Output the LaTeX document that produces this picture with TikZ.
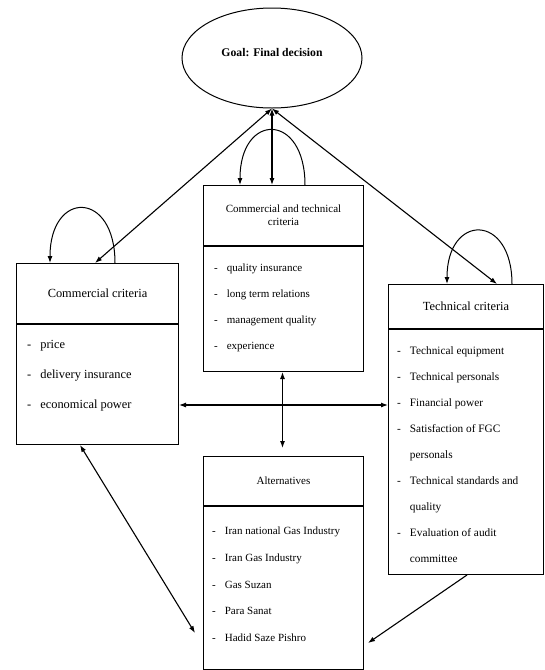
\documentclass[tikz,border=0pt]{standalone}
\usepackage{fontspec}
\setmainfont{Liberation Serif}
\usetikzlibrary{arrows.meta,shapes.geometric}
\tikzset{
  head/.style={draw,line width=1pt,inner sep=2pt,align=center,anchor=north west},
  body/.style={draw,line width=1pt,anchor=north west},
  items/.style={inner sep=0pt,anchor=north west,align=left},
  link/.style={line width=1.1pt,{Latex[length=7pt,width=5pt]}-{Latex[length=7pt,width=5pt]}},
  oneway/.style={line width=1.1pt,-{Latex[length=7pt,width=5pt]}},
  selfloop/.style={line width=1pt,-{Latex[length=7pt,width=5pt]}},
}
\begin{document}
\begin{tikzpicture}[x=1pt,y=-1pt,font=\fontsize{11}{13}\selectfont]
  \useasboundingbox (0,0) rectangle (545,670);
  \node[draw,ellipse,line width=1pt,minimum width=180pt,minimum height=100pt] (goal) at (272,58) {};
  \node[font=\bfseries\fontsize{11.7}{13}\selectfont] (goaltext) at ([yshift=5pt]goal.center) {Goal: Final decision};

  % criteria boxes
  \node[head,minimum width=162pt,minimum height=60pt,font=\fontsize{12.4}{14}\selectfont] (commhead) at (16,263) {Commercial criteria};
  \node[body,minimum width=162pt,minimum height=120pt] (commbody) at (commhead.south west) {};
  \node[items,font=\fontsize{12.4}{30}\selectfont] (commitems) at ([xshift=11pt,yshift=-3pt]commbody.north west)
    {\begin{tabular}{@{}l@{\hspace{9pt}}l@{}}-&price\\-&delivery insurance\\-&economical power\end{tabular}};

  \node[head,minimum width=160pt,minimum height=60pt] (cthead) at (203,185) {Commercial and technical\\criteria};
  \node[body,minimum width=160pt,minimum height=125pt] (ctbody) at (cthead.south west) {};
  \node[items,font=\fontsize{11}{26}\selectfont] (ctitems) at ([xshift=11pt,yshift=-7pt]ctbody.north west)
    {\begin{tabular}{@{}l@{\hspace{9pt}}l@{}}-&quality insurance\\-&long term relations\\-&management quality\\-&experience\end{tabular}};

  \node[head,minimum width=155pt,minimum height=44pt,font=\fontsize{12.4}{14}\selectfont] (techhead) at (388,284) {Technical criteria};
  \node[body,minimum width=155pt,minimum height=245pt] (techbody) at (techhead.south west) {};
  \node[items,font=\fontsize{11.3}{26}\selectfont] (techitems) at ([xshift=9pt,yshift=-7pt]techbody.north west)
    {\begin{tabular}{@{}l@{\hspace{9pt}}l@{}}-&Technical equipment\\-&Technical personals\\-&Financial power\\
      -&Satisfaction of FGC\\&personals\\-&Technical standards and\\&quality\\-&Evaluation of audit\\&committee\end{tabular}};

  \node[head,minimum width=160pt,minimum height=49pt] (althead) at (203,456) {Alternatives};
  \node[body,minimum width=160pt,minimum height=163pt] (altbody) at (althead.south west) {};
  \node[items,font=\fontsize{11}{26.7}\selectfont] (altitems) at ([xshift=9pt,yshift=-10pt]altbody.north west)
    {\begin{tabular}{@{}l@{\hspace{9pt}}l@{}}-&Iran national Gas Industry\\-&Iran Gas Industry\\-&Gas Suzan\\
      -&Para Sanat\\-&Hadid Saze Pishro\end{tabular}};

  \coordinate (midrow) at (0,405);
  \begin{scope}[link]
    \draw ([xshift=79pt]commhead.north west) -- (goal.south);
    \draw ([xshift=109pt]techhead.north west) -- (goal.south);
    \draw (goal.south |- cthead.north) -- (goal.south);
    \draw (commbody.east |- midrow) -- (techbody.west |- midrow);
    \draw ([xshift=-1pt]ctbody.south) -- ([xshift=-1pt,yshift=8pt]althead.north);
    \draw ([xshift=64pt]commbody.south west) -- ([xshift=-8pt,yshift=-45pt]altbody.west);
  \end{scope}
  \draw[oneway] ([xshift=79pt]techbody.south west) -- ([xshift=4pt,yshift=-55pt]altbody.east);

  % self loops
  \begin{scope}[selfloop]
    \draw ([xshift=99pt]commhead.north west) .. controls +(0,-73) and +(0,-73) .. ([xshift=34pt]commhead.north west);
    \draw ([xshift=102pt]cthead.north west) .. controls +(0,-73) and +(0,-73) .. ([xshift=37pt]cthead.north west);
    \draw ([xshift=124pt]techhead.north west) .. controls +(0,-71) and +(0,-71) .. ([xshift=59pt]techhead.north west);
  \end{scope}
\end{tikzpicture}
\end{document}
